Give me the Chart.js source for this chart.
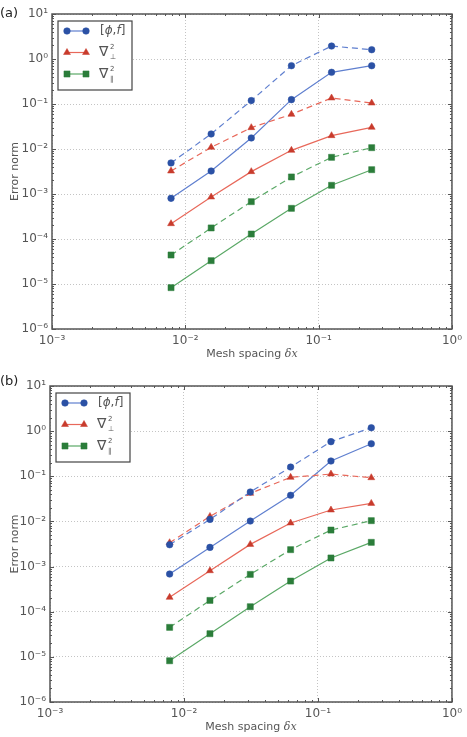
<!DOCTYPE html>
<html>
<head>
<meta charset="utf-8">
<script src="https://cdn.jsdelivr.net/npm/chart.js@4.4.0/dist/chart.umd.min.js"></script>
<style>
body { margin: 0; background: #fff; }
canvas { position: absolute; left: 0; }
</style>
</head>
<body>
<canvas id="chartA" width="467" height="368" style="top:0"></canvas>
<canvas id="chartB" width="467" height="369" style="top:368px"></canvas>
<script>
// mesh spacings (x), same for every series
const meshSpacing = [1/128, 1/64, 1/32, 1/16, 1/8, 1/4];
const xRange = [1e-3, 1];
const yRange = [1e-6, 10];

// panel (a) error norms
const aBracketSolid = [0.0008, 0.00324, 0.0176, 0.125, 0.506, 0.71];
const aBracketDashed = [0.0049, 0.0216, 0.119, 0.71, 1.94, 1.61];
const aPerpSolid = [0.000219, 0.000857, 0.00314, 0.00934, 0.0198, 0.0303];
const aPerpDashed = [0.00324, 0.0109, 0.0298, 0.0589, 0.136, 0.105];
const aParSolid = [8.3e-6, 3.3e-5, 1.29e-4, 4.8e-4, 0.00156, 0.00347];
const aParDashed = [4.41e-5, 1.76e-4, 6.76e-4, 0.00239, 0.00653, 0.0107];

// panel (b) error norms
const bBracketSolid = [0.000684, 0.00266, 0.0102, 0.0379, 0.218, 0.527];
const bBracketDashed = [0.00305, 0.0111, 0.0448, 0.160, 0.585, 1.19];
const bPerpSolid = [0.000208, 0.000809, 0.0031, 0.00923, 0.0179, 0.0251];
const bPerpDashed = [0.00338, 0.0129, 0.0419, 0.0946, 0.112, 0.093];
const bParSolid = [8.2e-6, 3.26e-5, 1.29e-4, 4.78e-4, 0.00155, 0.00344];
const bParDashed = [4.5e-5, 1.78e-4, 6.71e-4, 0.00237, 0.00644, 0.0104];

const colors = {
    bracket: { line: '#5f7fcf', mark: '#2b51a5' },
    perp: { line: '#e8685a', mark: '#c83b2c' },
    par: { line: '#5aa866', mark: '#2b7d3a' }
};
const styles = { bracket: 'circle', perp: 'triangle', par: 'rect' };
const radii = { bracket: 3.3, perp: 4, par: 4.3 };

const SUP = { '-': '\u207B', '0': '\u2070', '1': '\u00B9', '2': '\u00B2', '3': '\u00B3',
    '4': '\u2074', '5': '\u2075', '6': '\u2076', '7': '\u2077', '8': '\u2078', '9': '\u2079' };

function isDecade(v) {
    const l = Math.log10(v);
    return Math.abs(l - Math.round(l)) < 1e-6;
}

function decadeLabel(v) {
    if (!isDecade(v)) return null;
    const e = String(Math.round(Math.log10(v)));
    return '10' + e.split('').map(c => SUP[c]).join('');
}

function makeSeries(key, values, dashed) {
    return {
        data: meshSpacing.map((x, i) => ({ x: x, y: values[i] })),
        borderColor: colors[key].line,
        borderWidth: 1.2,
        borderDash: dashed ? [6, 4] : [],
        pointStyle: styles[key],
        pointRadius: radii[key],
        pointBackgroundColor: colors[key].mark,
        pointBorderColor: colors[key].mark,
        pointBorderWidth: 0.5,
        fill: false
    };
}

// inward ticks, frame, legend, axis titles, panel label
const framePlugin = {
    id: 'frame',
    afterDraw(chart, args, opts) {
        const ctx = chart.ctx;
        const area = chart.chartArea;
        const xs = chart.scales.x, ys = chart.scales.y;
        ctx.save();
        ctx.strokeStyle = '#555';
        ctx.lineWidth = 1;
        // x ticks
        for (let d = -3; d <= 0; d++) {
            for (let k = 1; k <= 9; k++) {
                const v = k * Math.pow(10, d);
                if (v > xRange[1] * 1.0001) break;
                const px = Math.round(xs.getPixelForValue(v)) + 0.5;
                const len = k === 1 ? 4 : 2;
                ctx.beginPath();
                ctx.moveTo(px, area.bottom); ctx.lineTo(px, area.bottom - len);
                ctx.moveTo(px, area.top); ctx.lineTo(px, area.top + len);
                ctx.stroke();
            }
        }
        // y ticks
        for (let d = -6; d <= 1; d++) {
            for (let k = 1; k <= 9; k++) {
                const v = k * Math.pow(10, d);
                if (v > yRange[1] * 1.0001) break;
                const py = Math.round(ys.getPixelForValue(v)) + 0.5;
                const len = k === 1 ? 4 : 2;
                ctx.beginPath();
                ctx.moveTo(area.left, py); ctx.lineTo(area.left + len, py);
                ctx.moveTo(area.right, py); ctx.lineTo(area.right - len, py);
                ctx.stroke();
            }
        }
        // frame
        ctx.lineWidth = 1.5;
        ctx.strokeRect(area.left, area.top, area.right - area.left, area.bottom - area.top);

        // legend box
        const lx = area.left + 6, ly = area.top + 7;
        ctx.fillStyle = '#fff';
        ctx.fillRect(lx, ly, 74, 69);
        ctx.lineWidth = 1.2;
        ctx.strokeStyle = '#444';
        ctx.strokeRect(lx, ly, 74, 69);
        const keys = ['bracket', 'perp', 'par'];
        keys.forEach((key, i) => {
            const y = ly + 10 + i * 21.5;
            const x0 = lx + 9, x1 = lx + 28;
            ctx.strokeStyle = colors[key].line;
            ctx.lineWidth = 1.2;
            ctx.beginPath(); ctx.moveTo(x0, y); ctx.lineTo(x1, y); ctx.stroke();
            ctx.fillStyle = colors[key].mark;
            ctx.strokeStyle = colors[key].mark;
            ctx.lineWidth = 0.5;
            [x0, x1].forEach(x => Chart.helpers.drawPoint(ctx, {
                pointStyle: styles[key], radius: radii[key], borderWidth: 0.5, rotation: 0
            }, x, y));
        });
        ctx.fillStyle = '#555';
        ctx.textBaseline = 'middle';
        ctx.textAlign = 'left';
        // [phi, f]
        let tx = lx + 42, ty = ly + 10;
        const seg = (t, font) => { ctx.font = font; ctx.fillText(t, tx, ty); tx += ctx.measureText(t).width; };
        seg('[', '12px "DejaVu Sans"');
        seg('\u03D5', 'italic 12px "DejaVu Sans"');
        seg(',', '12px "DejaVu Sans"');
        seg('f', 'italic 12px "DejaVu Sans"');
        seg(']', '12px "DejaVu Sans"');
        // nabla labels
        [['\u22A5', ly + 31.5], ['\u2016', ly + 53]].forEach(([sub, yy]) => {
            ctx.font = '14px "DejaVu Sans"';
            ctx.fillText('\u2207', lx + 41, yy);
            ctx.font = '7px "DejaVu Sans"';
            ctx.fillText('2', lx + 52, yy - 5);
            ctx.fillText(sub, lx + 52, yy + 5);
        });

        // axis titles
        ctx.fillStyle = '#555';
        ctx.textAlign = 'left';
        const t1 = 'Mesh spacing ';
        ctx.font = '11px "DejaVu Sans"';
        const w1 = ctx.measureText(t1).width;
        ctx.font = 'italic 11px "DejaVu Serif"';
        const w2 = ctx.measureText('\u03B4x').width;
        const sx = (area.left + area.right) / 2 - (w1 + w2) / 2;
        ctx.font = '11px "DejaVu Sans"';
        ctx.fillText(t1, sx, opts.xTitleY);
        ctx.font = 'italic 11px "DejaVu Serif"';
        ctx.fillText('\u03B4x', sx + w1, opts.xTitleY);

        ctx.save();
        ctx.translate(opts.yTitleX, (area.top + area.bottom) / 2);
        ctx.rotate(-Math.PI / 2);
        ctx.textAlign = 'center';
        ctx.font = '11px "DejaVu Sans"';
        ctx.fillText('Error norm', 0, 0);
        ctx.restore();

        // panel label
        ctx.fillStyle = '#222';
        ctx.font = '13px "DejaVu Sans"';
        ctx.textAlign = 'left';
        ctx.fillText(opts.label, 0, opts.labelY);
        ctx.restore();
    }
};

function displayPanel(canvasId, series, layout) {
    const ctx = document.getElementById(canvasId);
    new Chart(ctx, {
        type: 'line',
        data: {
            datasets: [
                makeSeries('bracket', series.bracketDashed, true),
                makeSeries('perp', series.perpDashed, true),
                makeSeries('par', series.parDashed, true),
                makeSeries('bracket', series.bracketSolid, false),
                makeSeries('perp', series.perpSolid, false),
                makeSeries('par', series.parSolid, false)
            ]
        },
        options: {
            responsive: false,
            animation: false,
            layout: { padding: { top: layout.top, right: layout.right, left: 0, bottom: 0 } },
            plugins: {
                legend: { display: false },
                tooltip: { enabled: false },
                frame: { label: layout.label, labelY: layout.labelY, xTitleY: layout.xTitleY, yTitleX: 15 }
            },
            scales: {
                x: {
                    type: 'logarithmic',
                    min: xRange[0],
                    max: xRange[1],
                    afterFit: s => { s.height = layout.xHeight; },
                    border: { display: false, dash: [1, 2] },
                    grid: { color: '#c4c4c4', drawTicks: false, lineWidth: 1 },
                    ticks: {
                        autoSkip: false, maxRotation: 0, padding: 5,
                        color: '#555', font: { family: 'DejaVu Sans', size: 12 },
                        callback: v => decadeLabel(v)
                    }
                },
                y: {
                    type: 'logarithmic',
                    min: yRange[0],
                    max: yRange[1],
                    afterFit: s => { s.width = layout.yWidth; },
                    border: { display: false, dash: [1, 2] },
                    grid: { color: '#c4c4c4', drawTicks: false, lineWidth: 1 },
                    ticks: {
                        autoSkip: false, padding: 4,
                        color: '#555', font: { family: 'DejaVu Sans', size: 12 },
                        callback: v => decadeLabel(v)
                    }
                }
            }
        },
        plugins: [framePlugin]
    });
}

displayPanel('chartA', {
    bracketSolid: aBracketSolid, bracketDashed: aBracketDashed,
    perpSolid: aPerpSolid, perpDashed: aPerpDashed,
    parSolid: aParSolid, parDashed: aParDashed
}, { top: 14, right: 8, xHeight: 39, yWidth: 52, label: '(a)', labelY: 14, xTitleY: 354 });

displayPanel('chartB', {
    bracketSolid: bBracketSolid, bracketDashed: bBracketDashed,
    perpSolid: bPerpSolid, perpDashed: bPerpDashed,
    parSolid: bParSolid, parDashed: bParDashed
}, { top: 18, right: 10, xHeight: 35, yWidth: 50, label: '(b)', labelY: 14, xTitleY: 359 });
</script>
</body>
</html>
